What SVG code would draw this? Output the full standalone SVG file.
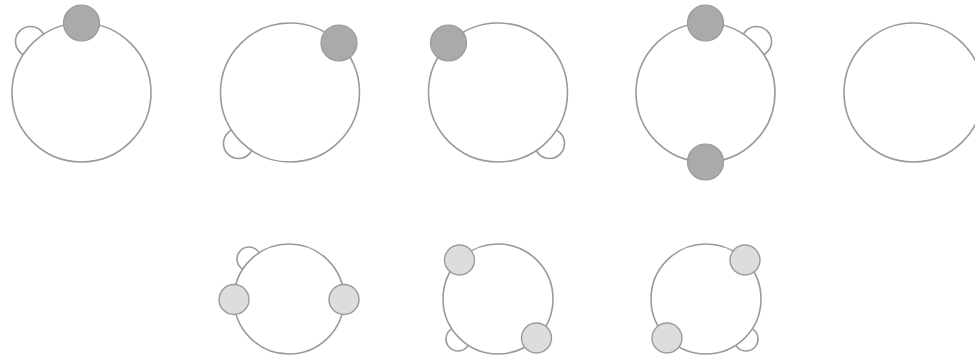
<svg xmlns="http://www.w3.org/2000/svg" width="975" height="359" viewBox="0 0 975 359">
<style>
.ring{fill:#fff;stroke:#9a9a9a;stroke-width:1.6}
.bump{fill:#fff;stroke:#9a9a9a;stroke-width:1.6}
.dark{fill:#aaaaaa;stroke:#9a9a9a;stroke-width:1.2}
.light{fill:#dddddd;stroke:#9a9a9a;stroke-width:1.4}
</style>
<rect width="975" height="359" fill="#fff"/>
<g id="ring1">
<circle class="bump" cx="30.5" cy="41.5" r="15"/>
<circle class="ring" cx="81.5" cy="92.5" r="69.5"/>
<circle class="dark" cx="81.5" cy="23" r="18"/>
</g>
<g id="ring2">
<circle class="bump" cx="238.5" cy="143.5" r="15"/>
<circle class="ring" cx="290" cy="92.5" r="69.5"/>
<circle class="dark" cx="339" cy="43" r="18"/>
</g>
<g id="ring3">
<circle class="bump" cx="549.5" cy="143.5" r="15"/>
<circle class="ring" cx="498" cy="92.5" r="69.5"/>
<circle class="dark" cx="448.5" cy="43" r="18"/>
</g>
<g id="ring4">
<circle class="bump" cx="756.5" cy="41.5" r="15"/>
<circle class="ring" cx="705.5" cy="92.5" r="69.5"/>
<circle class="dark" cx="705.5" cy="23" r="18"/>
<circle class="dark" cx="705.5" cy="162" r="18"/>
</g>
<g id="ring5">
<circle class="ring" cx="913.5" cy="92.5" r="69.5"/>
</g>
<g id="ring6">
<circle class="bump" cx="249" cy="259" r="12"/>
<circle class="ring" cx="289" cy="299" r="55"/>
<circle class="light" cx="234" cy="299.5" r="15"/>
<circle class="light" cx="344" cy="299.5" r="15"/>
</g>
<g id="ring7">
<circle class="bump" cx="458" cy="339" r="12"/>
<circle class="ring" cx="498" cy="299" r="55"/>
<circle class="light" cx="459.5" cy="260" r="15"/>
<circle class="light" cx="536.5" cy="338" r="15"/>
</g>
<g id="ring8">
<circle class="bump" cx="746" cy="339" r="12"/>
<circle class="ring" cx="706" cy="299" r="55"/>
<circle class="light" cx="745" cy="260" r="15"/>
<circle class="light" cx="667" cy="338" r="15"/>
</g>
<g id="connectors"/>
</svg>
